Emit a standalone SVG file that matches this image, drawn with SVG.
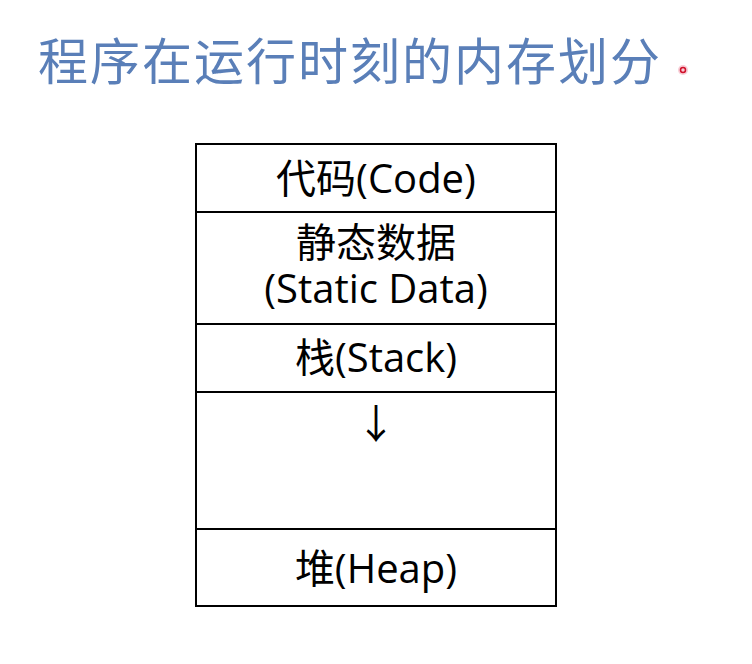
<svg xmlns="http://www.w3.org/2000/svg" width="752" height="664" viewBox="0 0 752 664">
<style>
.t{font-family:"Open Sans","Noto Sans CJK SC",sans-serif;font-size:40px;fill:#000;text-anchor:middle}
.title{font-family:"Noto Sans CJK SC",sans-serif;font-size:50px;fill:#5A7FB8}
.cell{fill:#fff;stroke:#000;stroke-width:2}
</style>
<rect width="752" height="664" fill="#fff"/>
<text class="title" x="38" y="80" letter-spacing="2">程序在运行时刻的内存划分</text>
<circle cx="683" cy="70" r="5" fill="#F4B8C4" opacity="0.7"/>
<circle cx="683" cy="70" r="2.5" fill="none" stroke="#D0102A" stroke-width="1.5"/>
<g id="code"><rect class="cell" x="196" y="144" width="360" height="68"/><text class="t" x="376" y="193">代码(Code)</text></g>
<g id="static"><rect class="cell" x="196" y="212" width="360" height="112"/><text class="t" x="376" y="257">静态数据</text><text class="t" x="376" y="303">(Static Data)</text></g>
<g id="stack"><rect class="cell" x="196" y="324" width="360" height="68"/><text class="t" x="376" y="372">栈(Stack)</text></g>
<g id="free"><rect class="cell" x="196" y="392" width="360" height="137"/><text class="t" x="376" y="438">↓</text></g>
<g id="heap"><rect class="cell" x="196" y="529" width="360" height="77"/><text class="t" x="376" y="583">堆(Heap)</text></g>
<g id="connectors"></g>
</svg>
